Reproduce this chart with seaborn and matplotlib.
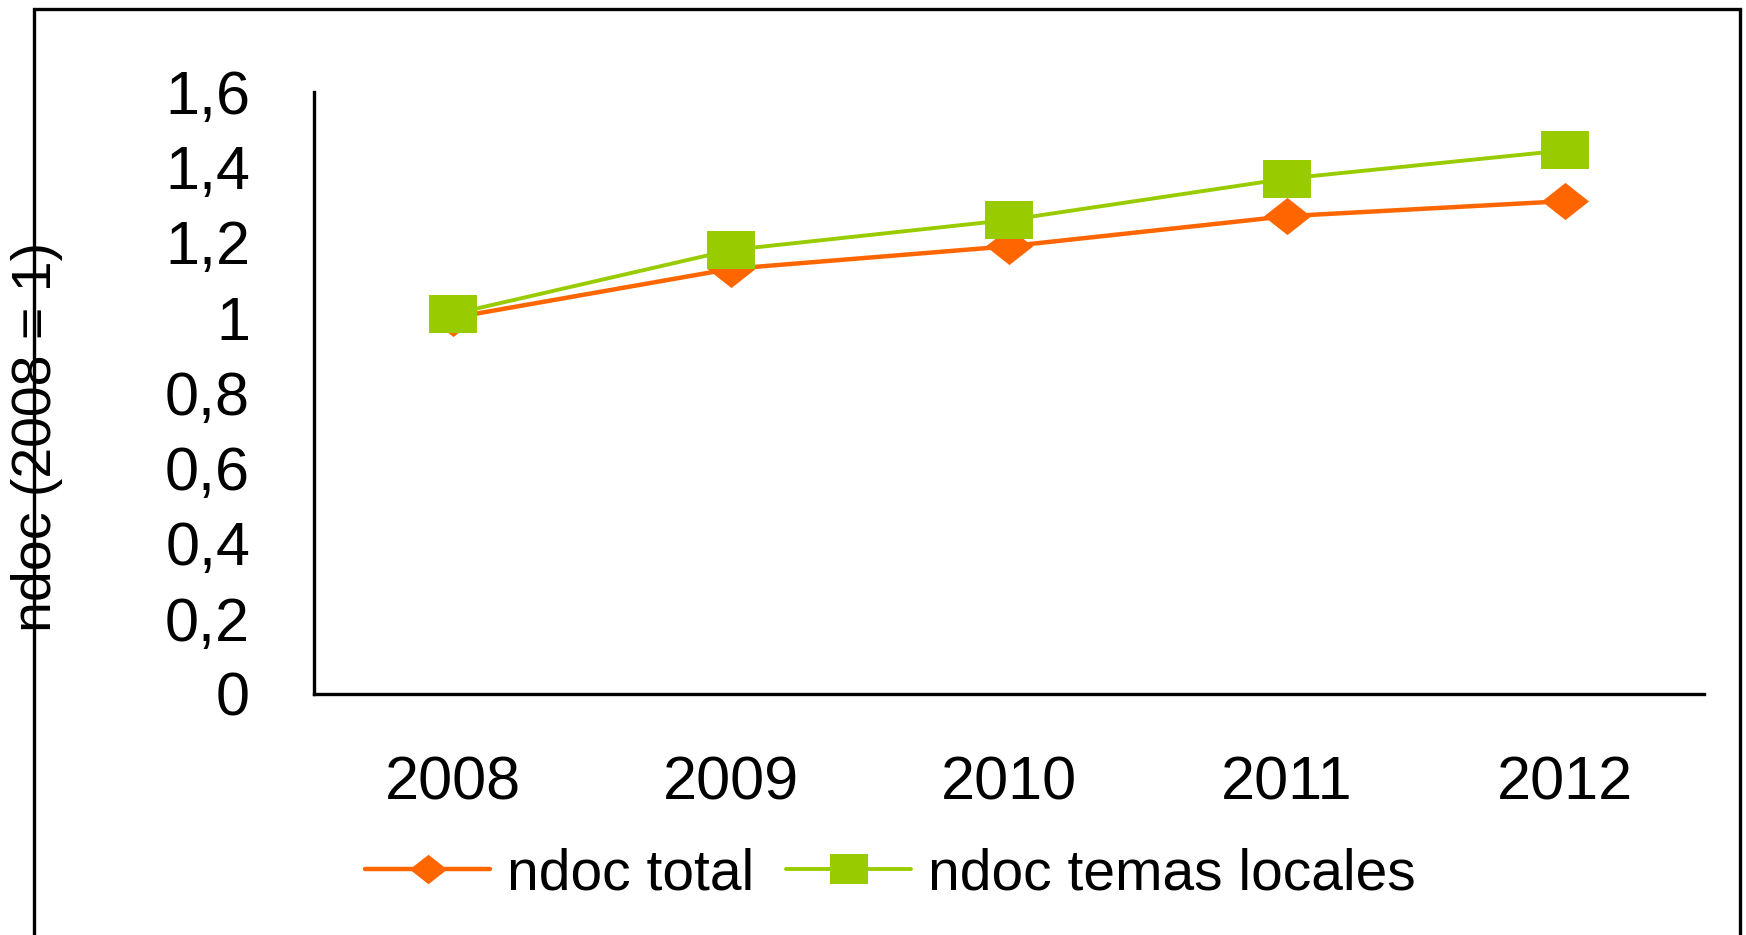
import matplotlib.pyplot as plt
import seaborn as sns
import pandas as pd
from matplotlib.patches import Rectangle

# data
years = [2008, 2009, 2010, 2011, 2012]
ndoc_total = [1.00, 1.13, 1.19, 1.27, 1.31]
ndoc_locales = [1.01, 1.18, 1.26, 1.37, 1.445]
series_names = ['ndoc total', 'ndoc temas locales']
y_ticks = [0, 0.2, 0.4, 0.6, 0.8, 1.0, 1.2, 1.4, 1.6]
y_labels = ['0', '0,2', '0,4', '0,6', '0,8', '1', '1,2', '1,4', '1,6']

df = pd.DataFrame({
    'year': years * 2,
    'value': ndoc_total + ndoc_locales,
    'serie': [series_names[0]] * len(years) + [series_names[1]] * len(years),
})

sns.set_style('white')
plt.rcParams['font.family'] = ['Liberation Sans', 'DejaVu Sans']
plt.rcParams['text.color'] = 'black'

fig = plt.figure(figsize=(17.46, 9.35), dpi=100)
ax = fig.add_axes([0.1798, 0.2578, 0.9760 - 0.1798, 0.9016 - 0.2578])

# wide markers (the original is stretched horizontally)
diamond = [(-1.27, 0), (0, -1), (1.27, 0), (0, 1), (-1.27, 0)]
square = [(-1.27, -1), (1.27, -1), (1.27, 1), (-1.27, 1), (-1.27, -1)]

colors = {series_names[0]: '#FF6600', series_names[1]: '#99CC00'}
markers = {series_names[0]: diamond, series_names[1]: square}
sizes = {series_names[0]: 3.2, series_names[1]: 2.8}

sns.lineplot(data=df, x='year', y='value', hue='serie', style='serie',
             size='serie', sizes=sizes, palette=colors, markers=markers,
             dashes=False, markersize=34, markeredgewidth=0, ax=ax,
             legend=False)

ax.set_xlim(2007.5, 2012.5)
ax.set_ylim(0, 1.6)
ax.set_xticks(years)
ax.set_xticklabels([str(y) for y in years])
ax.set_yticks(y_ticks)
ax.set_yticklabels(y_labels)
ax.tick_params(axis='both', length=0, labelsize=44, colors='black')
ax.tick_params(axis='y', pad=46)
ax.tick_params(axis='x', pad=44)
ax.set_xlabel('')
ax.set_ylabel('')
for side in ['top', 'right']:
    ax.spines[side].set_visible(False)
for side in ['left', 'bottom']:
    ax.spines[side].set_color('black')
    ax.spines[side].set_linewidth(2.4)

# y axis title sitting on the outer frame
fig.text(0.021, 0.533, 'ndoc (2008 = 1)', rotation=90, fontsize=40,
         ha='center', va='center', color='black')

# legend
handles = [
    plt.Line2D([], [], color=colors[n], lw=sizes[n], marker=markers[n],
               markersize=27, markeredgewidth=0)
    for n in series_names
]
fig.legend(handles, series_names, loc='center', bbox_to_anchor=(0.51, 0.065),
           ncol=2, frameon=False, fontsize=41, handlelength=2.2,
           handletextpad=0.3, columnspacing=0.55, borderpad=0,
           labelcolor='black')

# outer frame of the chart area
fig.patches.append(Rectangle((0.0195, -0.1), 0.9966 - 0.0195, 0.9904 + 0.1,
                             transform=fig.transFigure, fill=False,
                             edgecolor='black', linewidth=2.4))

fig.savefig('out.png', dpi=100)
